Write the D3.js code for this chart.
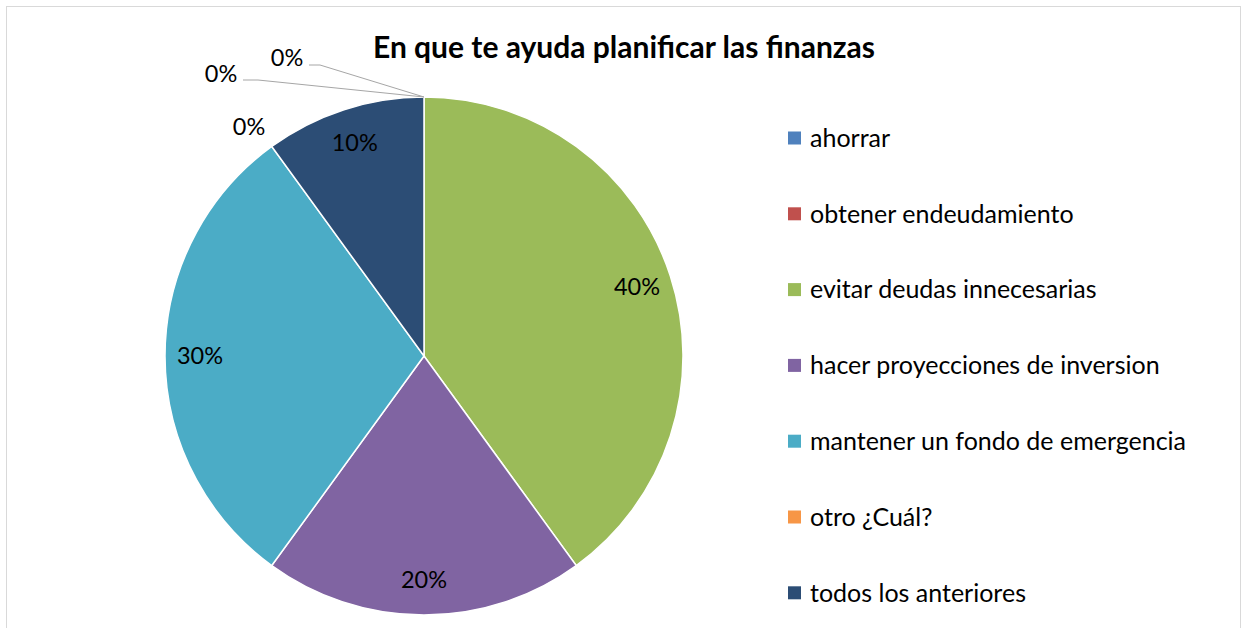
<!DOCTYPE html>
<html>
<head>
<meta charset="utf-8">
<script src="https://cdn.jsdelivr.net/npm/d3@7"></script>
<style>
  body { margin: 0; background: #fff; }
  svg text { font-family: Lato, "Open Sans", sans-serif; fill: #000; }
</style>
</head>
<body>
<svg width="1242" height="628"></svg>
<script>
const categories = ["ahorrar", "obtener endeudamiento", "evitar deudas innecesarias",
  "hacer proyecciones de inversion", "mantener un fondo de emergencia",
  "otro ¿Cuál?", "todos los anteriores"];
const values = [0, 0, 40, 20, 30, 0, 10];
const colors = ["#4F81BD", "#C0504D", "#9BBB59", "#8064A2", "#4BACC6", "#F79646", "#2C4D75"];

const svg = d3.select("svg");
const cx = 424, cy = 356, radius = 259;

// chart border
svg.append("rect")
  .attr("x", 6.5).attr("y", 6.5)
  .attr("width", 1234).attr("height", 640)
  .attr("fill", "none").attr("stroke", "#d9d9d9").attr("stroke-width", 1);

svg.append("text")
  .attr("x", 624).attr("y", 58)
  .attr("text-anchor", "middle")
  .attr("font-size", 30).attr("font-weight", "bold")
  .text("En que te ayuda planificar las finanzas");

const pie = d3.pie().sort(null).value(d => d.value);
const data = pie(categories.map((c, i) => ({ name: c, value: values[i], color: colors[i] })));
const arc = d3.arc().innerRadius(0).outerRadius(radius);
const labelArc = d3.arc().innerRadius(224).outerRadius(224);

const g = svg.append("g").attr("transform", "translate(" + cx + "," + cy + ")");

g.selectAll(".slice")
  .data(data.filter(d => d.value > 0))
  .enter().append("path")
  .attr("class", "slice")
  .attr("d", arc)
  .attr("fill", d => d.data.color)
  .attr("stroke", "#fff")
  .attr("stroke-width", 1.5);

// labels inside slices
g.selectAll(".lbl")
  .data(data.filter(d => d.value > 0))
  .enter().append("text")
  .attr("class", "lbl")
  .attr("transform", d => "translate(" + labelArc.centroid(d) + ")")
  .attr("text-anchor", "middle")
  .attr("dy", "0.35em")
  .attr("font-size", 23.5)
  .text(d => d.value + "%");

// zero slices: labels outside, offsets from the slice point
const zeroOffsets = {
  "ahorrar": { lx: -137, ly: -298, line: [[-115, -291], [-104, -291]] },
  "obtener endeudamiento": { lx: -203, ly: -282, line: [[-181, -276], [-166, -276]] },
  "otro ¿Cuál?": { lx: -175, ly: -229, line: null }
};
data.filter(d => d.value === 0).forEach(d => {
  const o = zeroOffsets[d.data.name];
  const px = Math.sin(d.startAngle) * radius, py = -Math.cos(d.startAngle) * radius;
  if (o.line) {
    g.append("path")
      .attr("d", d3.line()([o.line[0], o.line[1], [px, py]]))
      .attr("fill", "none").attr("stroke", "#a6a6a6").attr("stroke-width", 1);
  }
  g.append("text")
    .attr("x", o.lx).attr("y", o.ly)
    .attr("text-anchor", "middle").attr("dy", "0.35em")
    .attr("font-size", 23.5)
    .text(d.value + "%");
});

// legend
const legend = svg.append("g").attr("transform", "translate(788,138)");
const row = legend.selectAll(".leg")
  .data(categories)
  .enter().append("g")
  .attr("transform", (d, i) => "translate(0," + i * 75.8 + ")");
row.append("rect")
  .attr("x", 0).attr("y", -6.5).attr("width", 13).attr("height", 13)
  .attr("fill", (d, i) => colors[i]);
row.append("text")
  .attr("x", 22).attr("dy", "0.35em")
  .attr("font-size", 25)
  .text(d => d);
</script>
</body>
</html>
